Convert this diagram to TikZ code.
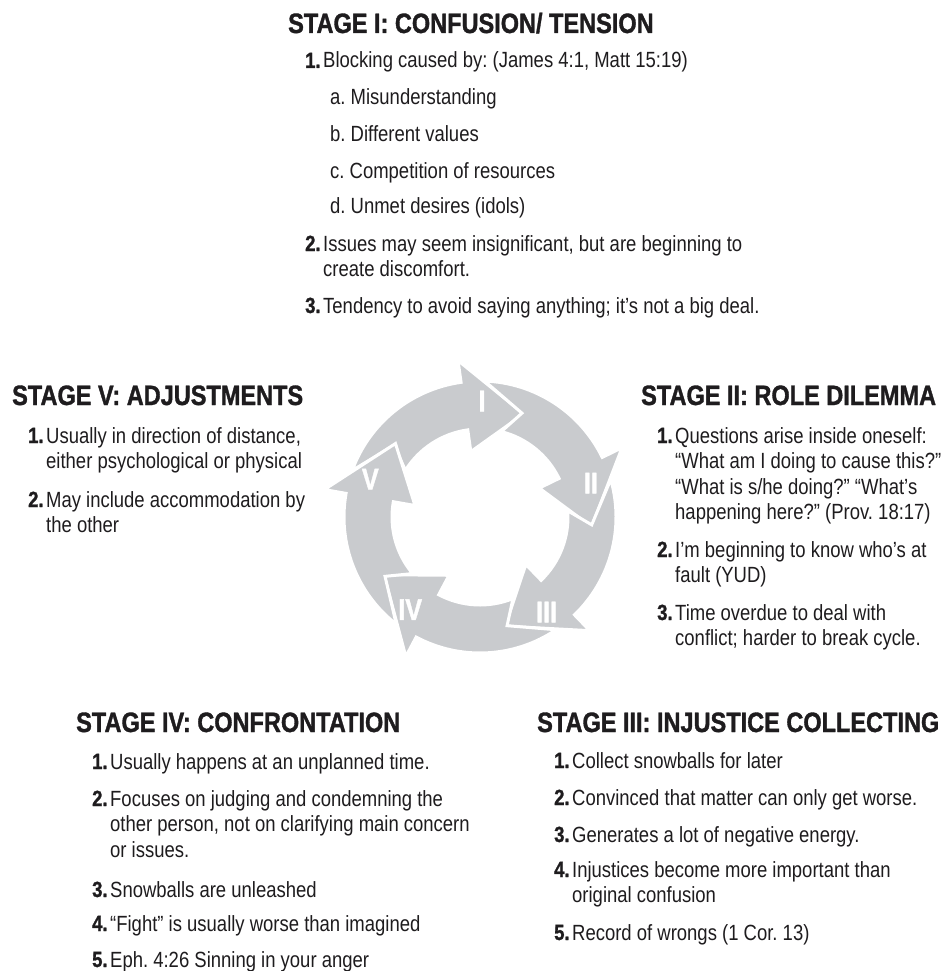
\documentclass[tikz,border=0pt]{standalone}
\usepackage{fontspec}
\setmainfont{Liberation Sans}[FakeStretch=0.84]
\newfontfamily\headfont{Liberation Sans Bold}[FakeStretch=0.84, FakeBold=1.2]
\frenchspacing
\definecolor{ink}{RGB}{30,28,30}
\definecolor{ringgray}{RGB}{201,203,206}
\newcommand{\itm}[2]{\parbox[t]{600pt}{\fontsize{22}{25.5}\selectfont\frenchspacing\hangindent=18pt\hangafter=1\noindent\makebox[18pt][l]{\headfont\fontsize{22}{25.5}\selectfont #1}#2}}
\newcommand{\subitm}[1]{{\fontsize{22}{25.5}\selectfont #1}}
\newcommand{\hd}[1]{{\headfont\fontsize{28}{30}\selectfont #1}}
\tikzset{
  txt/.style={anchor=base west, inner sep=0pt, text=ink},
  arrowseg/.style={fill=ringgray, draw=white, line width=3pt, line join=miter},
  numlab/.style={text=white, inner sep=0pt, font=\headfont\fontsize{30}{30}\selectfont}
}
\begin{document}
\begin{tikzpicture}[x=1pt,y=1pt]
\useasboundingbox (0,0) rectangle (949,-971);
\fill[white] (0,0) rectangle (949,-971);

% ---------- cycle ----------
\begin{scope}[shift={(480,-517)}]
\foreach \k/\lab in {0/I,1/II,2/III,3/IV,4/V}{
  \pgfmathsetmacro\b{98-72*\k}
  \pgfmathsetmacro\ta{\b+62}
  \pgfmathsetmacro\tb{\b+50}
  \pgfmathsetmacro\tn{\b+42}
  \pgfmathsetmacro\tip{\b-31}
  \pgfmathsetmacro\la{\b-9}
  \path[arrowseg] (\ta:136) arc[start angle=\ta, end angle=\b, radius=136]
     -- (\b:158) -- (\tip:112) -- (\b:66) -- (\b:88)
     arc[start angle=\b, end angle=\tb, radius=88]
     -- (\tn:112) -- cycle;
  \node[numlab] (lab\k) at (\la:116) {\lab};
}
\end{scope}

% ---------- Stage I ----------
\node[txt] (h1) at (288,-33) {\hd{STAGE I: CONFUSION/ TENSION}};
\node[txt] (s1i1) at (305,-68) {\itm{1.}{Blocking caused by: (James 4:1, Matt 15:19)}};
\node[txt] (s1a) at (330,-105) {\subitm{a. Misunderstanding}};
\node[txt] (s1b) at (330,-141) {\subitm{b. Different values}};
\node[txt] (s1c) at (330,-178) {\subitm{c. Competition of resources}};
\node[txt] (s1d) at (330,-213) {\subitm{d. Unmet desires (idols)}};
\node[txt] (s1i2) at (305,-251) {\itm{2.}{Issues may seem insignificant, but are beginning to\\create discomfort.}};
\node[txt] (s1i3) at (305,-313) {\itm{3.}{Tendency to avoid saying anything; it’s not a big deal.}};

% ---------- Stage V ----------
\node[txt] (h5) at (12,-405) {\hd{STAGE V: ADJUSTMENTS}};
\node[txt] (s5i1) at (28,-443) {\itm{1.}{Usually in direction of distance,\\either psychological or physical}};
\node[txt] (s5i2) at (28,-507) {\itm{2.}{May include accommodation by\\the other}};

% ---------- Stage II ----------
\node[txt] (h2) at (641,-405) {\hd{STAGE II: ROLE DILEMMA}};
\node[txt] (s2i1) at (657,-443) {\itm{1.}{Questions arise inside oneself:\\“What am I doing to cause this?”\\“What is s/he doing?” “What’s\\happening here?” (Prov. 18:17)}};
\node[txt] (s2i2) at (657,-557) {\itm{2.}{I’m beginning to know who’s at\\fault (YUD)}};
\node[txt] (s2i3) at (657,-620) {\itm{3.}{Time overdue to deal with\\conflict; harder to break cycle.}};

% ---------- Stage IV ----------
\node[txt] (h4) at (76,-732) {\hd{STAGE IV: CONFRONTATION}};
\node[txt] (s4i1) at (92,-769) {\itm{1.}{Usually happens at an unplanned time.}};
\node[txt] (s4i2) at (92,-806) {\itm{2.}{Focuses on judging and condemning the\\other person, not on clarifying main concern\\or issues.}};
\node[txt] (s4i3) at (92,-897) {\itm{3.}{Snowballs are unleashed}};
\node[txt] (s4i4) at (92,-931) {\itm{4.}{“Fight” is usually worse than imagined}};
\node[txt] (s4i5) at (92,-967) {\itm{5.}{Eph. 4:26 Sinning in your anger}};

% ---------- Stage III ----------
\node[txt] (h3) at (537,-732) {\hd{STAGE III: INJUSTICE COLLECTING}};
\node[txt] (s3i1) at (554,-768) {\itm{1.}{Collect snowballs for later}};
\node[txt] (s3i2) at (554,-805) {\itm{2.}{Convinced that matter can only get worse.}};
\node[txt] (s3i3) at (554,-842) {\itm{3.}{Generates a lot of negative energy.}};
\node[txt] (s3i4) at (554,-877) {\itm{4.}{Injustices become more important than\\original confusion}};
\node[txt] (s3i5) at (554,-940) {\itm{5.}{Record of wrongs (1 Cor. 13)}};
\end{tikzpicture}
\end{document}
